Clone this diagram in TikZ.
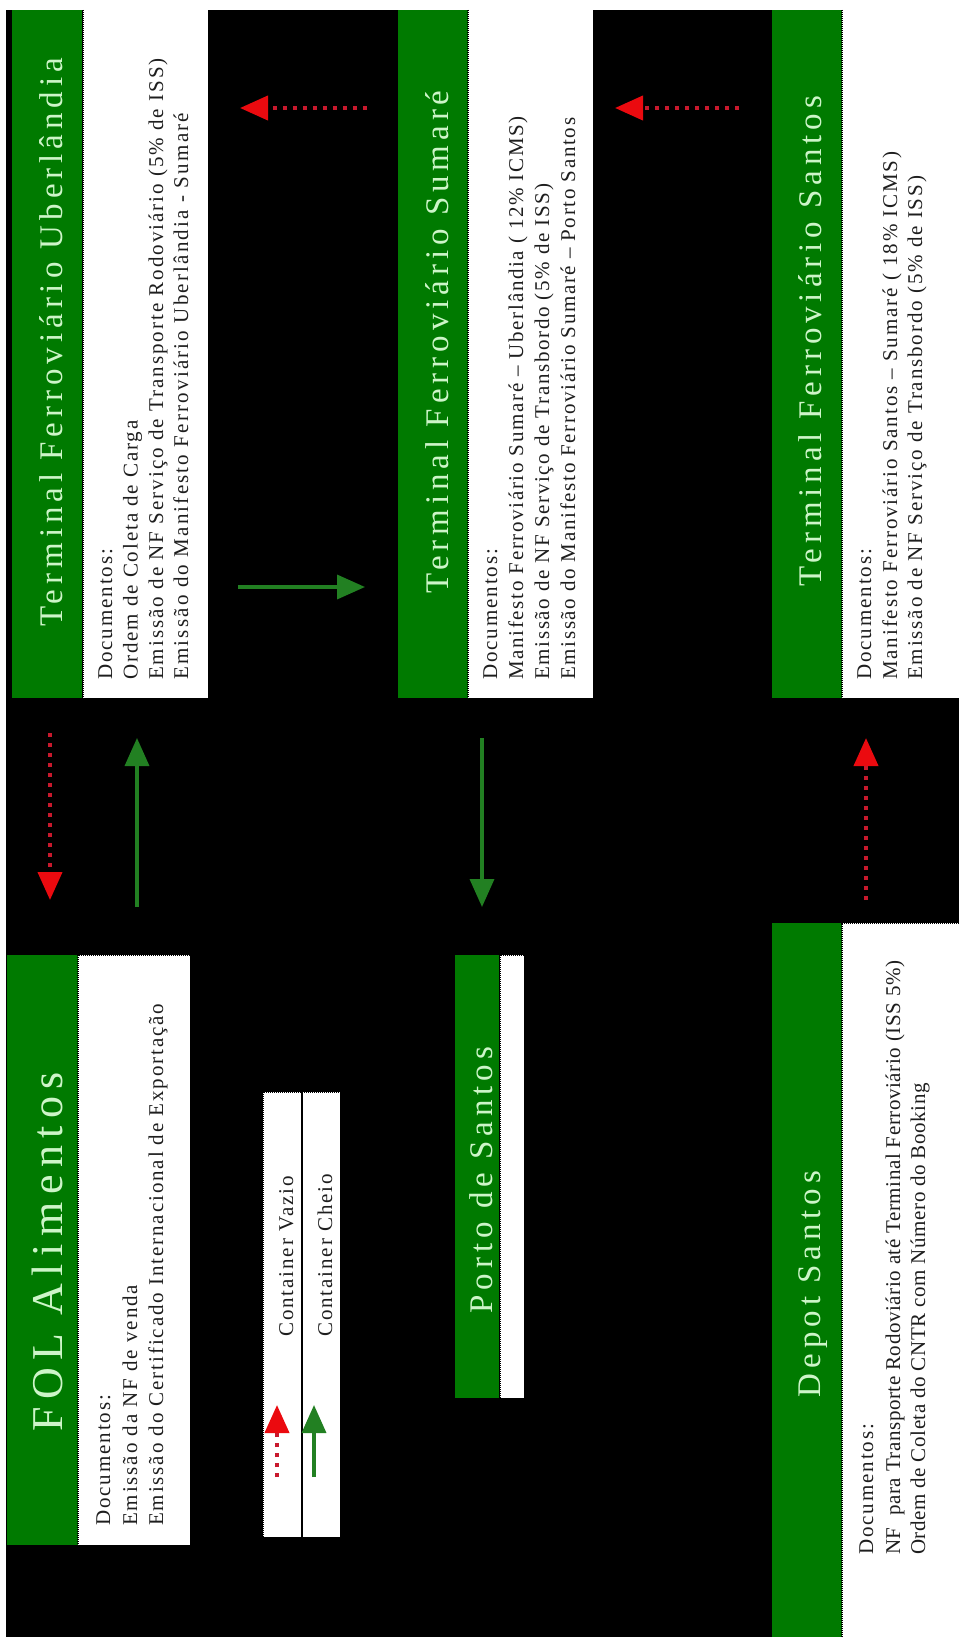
\documentclass[tikz,border=0pt]{standalone}
\usepackage{fontspec}
\setmainfont{Liberation Serif}
\newfontfamily\ttlfont[LetterSpace=15]{Liberation Serif}
\newfontfamily\bodyfnt[LetterSpace=9]{Liberation Serif}
\newfontfamily\folfnt[LetterSpace=17]{Liberation Serif}
\usetikzlibrary{arrows.meta}
\definecolor{band}{RGB}{0,122,0}
\definecolor{ttlc}{RGB}{205,245,200}
\definecolor{garr}{RGB}{34,128,34}
\definecolor{rdot}{RGB}{200,25,45}
\definecolor{rhead}{RGB}{235,10,15}
\definecolor{txt}{RGB}{30,30,30}
\newcommand\lsp[1]{\addfontfeature{LetterSpace=#1}}
\begin{document}
\begin{tikzpicture}[x=1pt,y=-1pt,
  gband/.style={fill=band, draw=none, inner sep=0, anchor=north west},
  wbox/.style={fill=white, draw=none, inner sep=0, anchor=north west},
  dotb/.style={draw=black, line width=1.3pt, dash pattern=on 1pt off 1pt},
  ttl/.style={rotate=90, anchor=base, inner sep=0, text=ttlc, font=\ttlfont\fontsize{33}{33}\selectfont},
  doc/.style={rotate=90, anchor=base west, inner sep=0, text=txt, font=\bodyfnt\fontsize{21}{21}\selectfont},
  garrow/.style={draw=garr, line width=3.5pt, -{Triangle[length=28pt,width=24pt]}},
  rarrow/.style={draw=rdot, line width=4pt, dash pattern=on 4pt off 6pt, -{Triangle[length=28pt,width=24pt,color=rhead,fill=rhead]}},
]
\useasboundingbox (0,0) rectangle (959,1637);
\fill[white] (0,0) rectangle (959,1637);
\fill[black] (6,10) rectangle (959,1637);

% Terminal Ferroviario Uberlandia
\node[gband, minimum width=70pt, minimum height=688pt] (ubG) at (12,10) {};
\node[wbox, minimum width=125pt, minimum height=688pt] (ubW) at (83,10) {};
\draw[dotb] (ubW.north west) -- (ubW.south west) -- (ubW.south east);
\node[ttl] (ubT) at (62,342.5) {Terminal Ferroviário Uberlândia};
\node[doc] (ub1) at (112,680) {Documentos:};
\node[doc] (ub2) at (137.5,680) {Ordem de Coleta de Carga};
\node[doc] (ub3) at (163,680) {\lsp{9.5}Emissão de NF Serviço de Transporte Rodoviário (5\% de ISS)};
\node[doc] (ub4) at (188,680) {\lsp{10.5}Emissão do Manifesto Ferroviário Uberlândia - Sumaré};

% Terminal Ferroviario Sumare
\node[gband, minimum width=70pt, minimum height=688pt] (suG) at (398,10) {};
\node[wbox, minimum width=125pt, minimum height=688pt] (suW) at (468,10) {};
\draw[dotb] (suW.north west) -- (suW.south west) -- (suW.south east);
\node[ttl] (suT) at (448,342) {Terminal Ferroviário Sumaré};
\node[doc] (su1) at (497,680) {Documentos:};
\node[doc] (su2) at (523,680) {\lsp{8}Manifesto Ferroviário Sumaré – Uberlândia ( 12\% ICMS)};
\node[doc] (su3) at (549,680) {\lsp{8}Emissão de NF Serviço de Transbordo (5\% de ISS)};
\node[doc] (su4) at (575,680) {\lsp{8}Emissão do Manifesto Ferroviário Sumaré – Porto Santos};

% Terminal Ferroviario Santos
\node[gband, minimum width=70pt, minimum height=688pt] (saG) at (772,10) {};
\node[wbox, minimum width=117pt, minimum height=688pt] (saW) at (842,10) {};
\draw[dotb] (saW.north west) -- (saW.south west) -- (saW.south east);
\node[ttl] (saT) at (821,341) {Terminal Ferroviário Santos};
\node[doc] (sa1) at (871,680) {Documentos:};
\node[doc] (sa2) at (897,680) {Manifesto Ferroviário Santos – Sumaré ( 18\% ICMS)};
\node[doc] (sa3) at (922,680) {Emissão de NF Serviço de Transbordo (5\% de ISS)};

% FOL Alimentos
\node[gband, minimum width=71pt, minimum height=590pt] (foG) at (7,955) {};
\node[wbox, minimum width=112pt, minimum height=590pt] (foW) at (78,955) {};
\draw[dotb] (foW.north west) rectangle (foW.south east);
\node[rotate=90, anchor=base, inner sep=0, text=ttlc, font=\folfnt\fontsize{44}{44}\selectfont] (foT) at (62,1252) {FOL Alimentos};
\node[doc] (fo1) at (110,1526) {Documentos:};
\node[doc] (fo2) at (137,1526) {Emissão da NF de venda};
\node[doc] (fo3) at (163,1526) {Emissão do Certificado Internacional de Exportação};

% Porto de Santos
\node[gband, minimum width=44pt, minimum height=443pt] (poG) at (455,955) {};
\node[wbox, minimum width=24pt, minimum height=443pt] (poW) at (500,955) {};
\draw[dotb] (poW.north west) rectangle (poW.south east);
\node[ttl] (poT) at (492,1180) {Porto de Santos};

% Depot Santos
\node[gband, minimum width=70pt, minimum height=714pt] (deG) at (772,923) {};
\node[wbox, minimum width=117pt, minimum height=714pt] (deW) at (842,923) {};
\draw[dotb] (deW.south west) -- (deW.north west) -- (deW.north east);
\node[ttl] (deT) at (820,1284) {Depot Santos};
\node[doc] (de1) at (873,1555) {Documentos:};
\node[doc] (de2) at (900,1555) {\lsp{2.8}NF\ \ para Transporte Rodoviário até Terminal Ferroviário (ISS 5\%)};
\node[doc] (de3) at (925,1555) {\lsp{2.8}Ordem de Coleta do CNTR com Número do Booking};

% Legend
\node[wbox, minimum width=77pt, minimum height=445pt] (lg) at (263,1092) {};
\draw[dotb] (lg.north west) rectangle (lg.south east);
\draw[black, line width=1.5pt] (lg.north) ++(0.5,0) coordinate (lgd0) (lg.south) ++(0.5,0) coordinate (lgd1);
\draw[black, line width=1.5pt] (lgd0) -- (lgd1);
\node[doc] (lg1) at (293,1337) {Container Vazio};
\node[doc] (lg2) at (332,1337) {Container Cheio};
\coordinate (lr0) at (277,1477); \coordinate (lr1) at (277,1405);
\coordinate (lgr0) at (314,1477); \coordinate (lgr1) at (314,1405);
\draw[rarrow] (lr0) -- (lr1);
\draw[garrow] (lgr0) -- (lgr1);

% Arrows
\coordinate (a1s) at (367,108); \coordinate (a1e) at (240,108);
\coordinate (a2s) at (739,108); \coordinate (a2e) at (615,108);
\coordinate (g1s) at (238,587); \coordinate (g1e) at (365,587);
\coordinate (r3s) at (50,733);  \coordinate (r3e) at (50,900);
\coordinate (g2s) at (137,907); \coordinate (g2e) at (137,738);
\coordinate (g3s) at (482,738); \coordinate (g3e) at (482,907);
\coordinate (r4s) at (866,900); \coordinate (r4e) at (866,738);
\draw[rarrow] (a1s) -- (a1e);
\draw[rarrow] (a2s) -- (a2e);
\draw[garrow] (g1s) -- (g1e);
\draw[rarrow] (r3s) -- (r3e);
\draw[garrow] (g2s) -- (g2e);
\draw[garrow] (g3s) -- (g3e);
\draw[rarrow] (r4s) -- (r4e);
\end{tikzpicture}
\end{document}
